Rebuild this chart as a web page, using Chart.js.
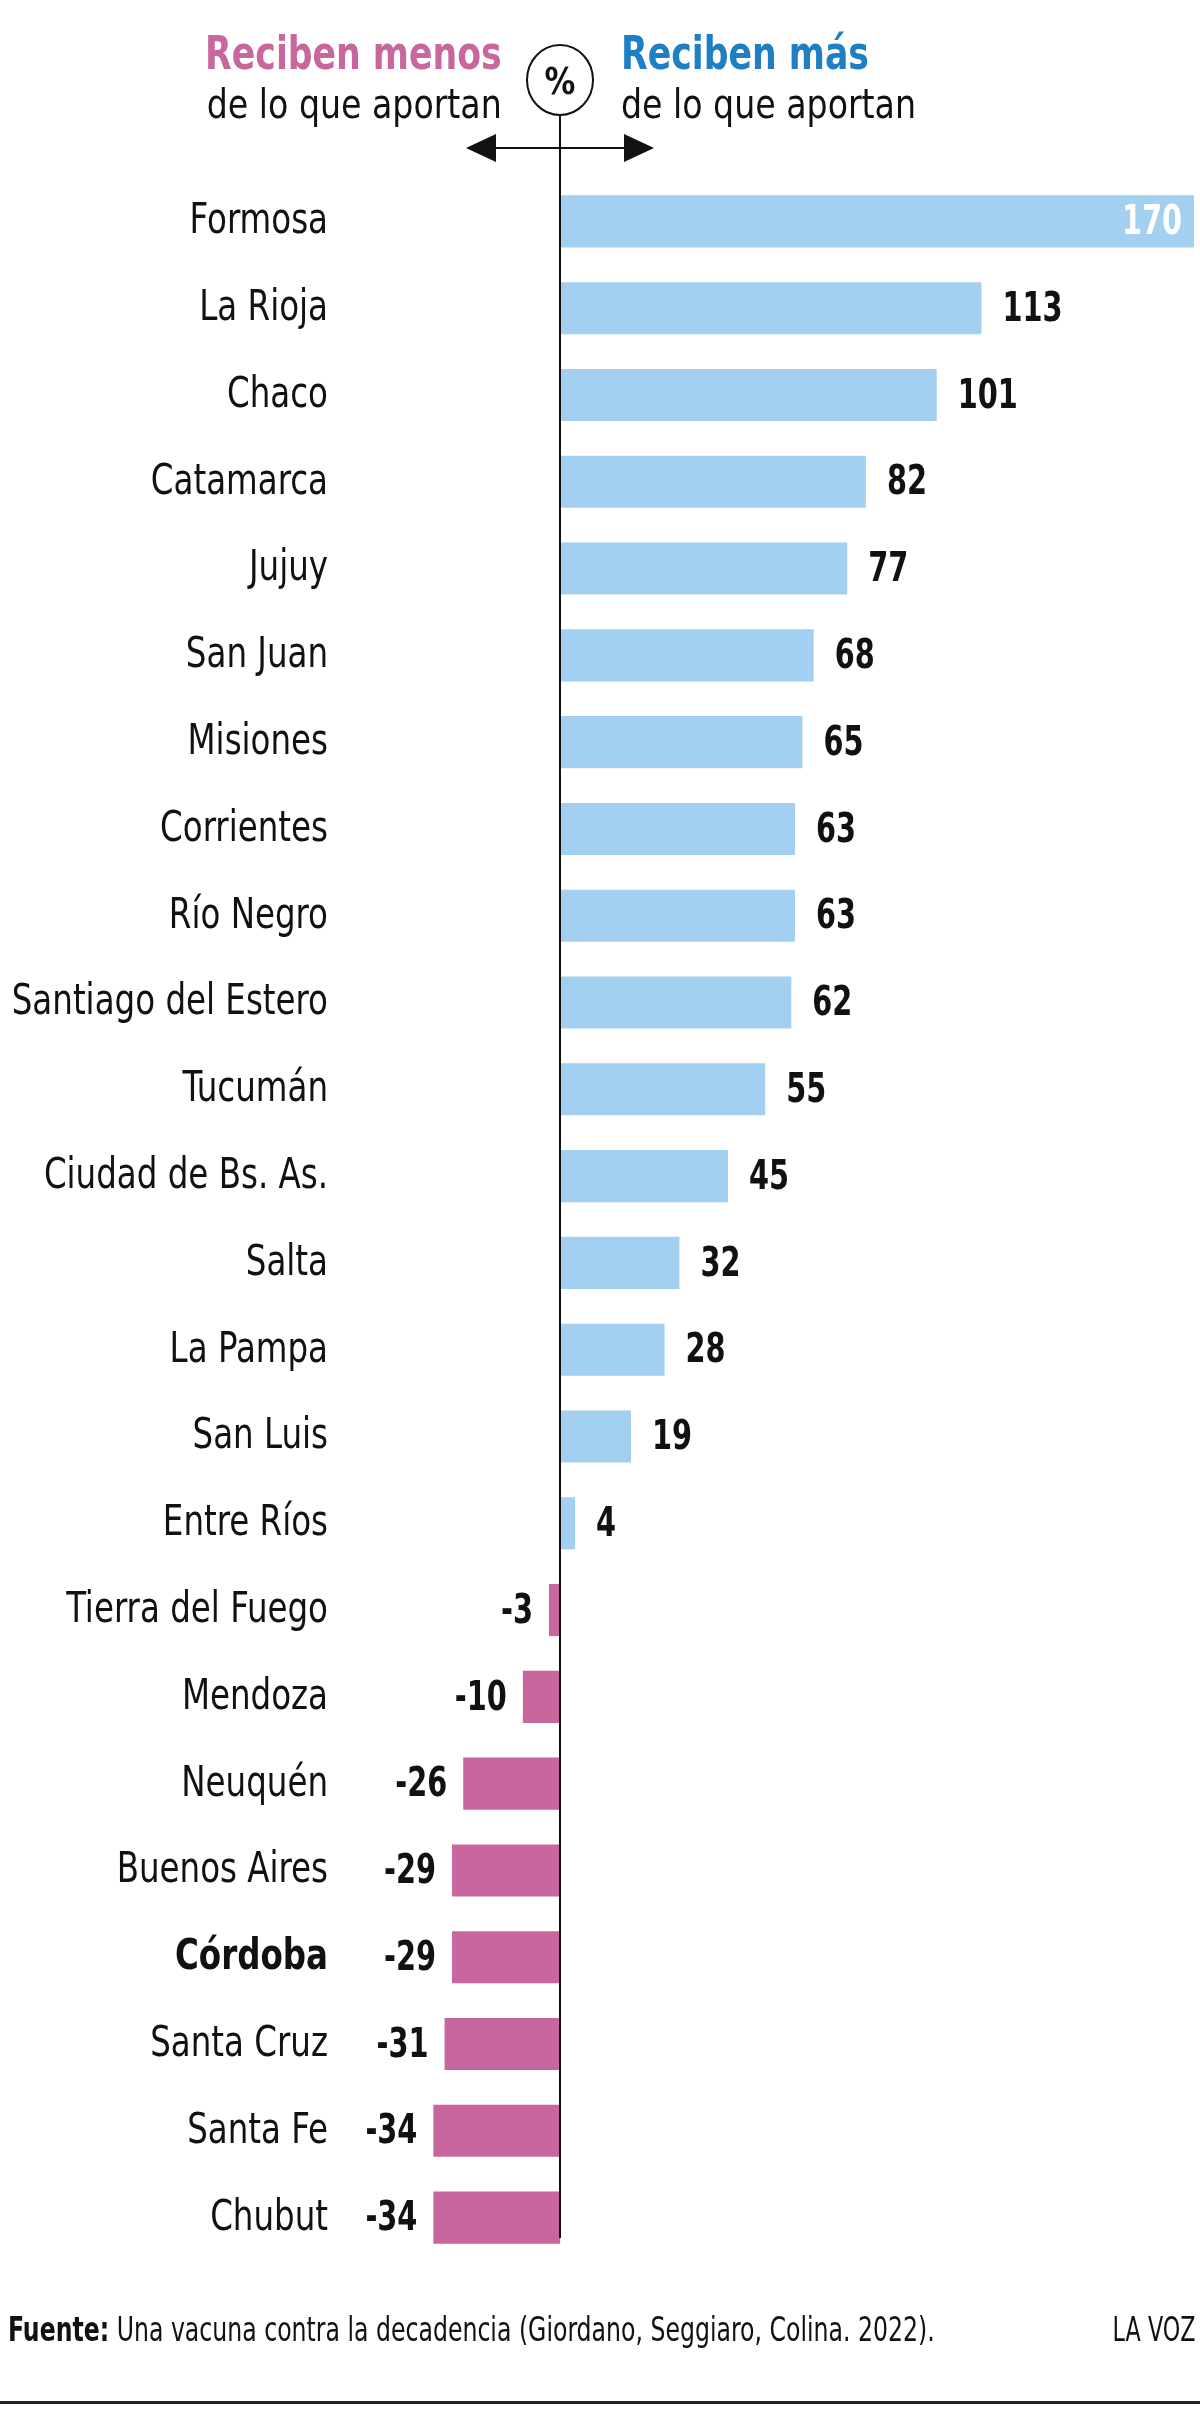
<!DOCTYPE html>
<html lang="es">
<head>
<meta charset="utf-8">
<title>Reciben más / menos de lo que aportan</title>
<script src="https://cdn.jsdelivr.net/npm/chart.js@4.4.1/dist/chart.umd.min.js"></script>
<style>
    html, body { margin: 0; padding: 0; background: #fff; }
    body {
        width: 1200px; height: 2413px; position: relative; overflow: hidden;
        font-family: 'DejaVu Sans Condensed', 'Liberation Sans', sans-serif;
        color: #111;
    }
    #grafico { position: absolute; left: 0; top: 0; }
    .txt { position: absolute; line-height: 1; white-space: nowrap; }
    .titulo { font-weight: bold; font-size: 47px; top: 29px; }
    .sub { font-size: 41px; top: 84px; }
    .izq { right: 698px; text-align: right; transform-origin: right center; }
    .der { left: 621px; transform-origin: left center; }
    .titulo.izq, .titulo.der { transform: scaleX(0.82); }
    .sub.izq, .sub.der { transform: scaleX(0.9); }
    #pct { left: 530px; width: 60px; text-align: center; top: 62px; font-size: 38px; font-weight: bold; transform: scaleX(0.9); }
    #fuente { left: 8px; top: 2313px; font-size: 33px; transform: scaleX(0.795); transform-origin: left center; }
    #marca { right: 5px; top: 2313px; font-size: 33px; transform: scaleX(0.75); transform-origin: right center; }
    #linea { position: absolute; left: 0; width: 1200px; top: 2401px; height: 3px; background: #222; }
</style>
</head>
<body>
<canvas id="grafico" width="1200" height="2413"></canvas>
<div class="txt titulo izq" style="color:#c8669e">Reciben menos</div>
<div class="txt sub izq">de lo que aportan</div>
<div class="txt titulo der" style="color:#1f7fc4">Reciben más</div>
<div class="txt sub der">de lo que aportan</div>
<div class="txt" id="pct">%</div>
<div class="txt" id="fuente"><b>Fuente:</b> Una vacuna contra la decadencia (Giordano, Seggiaro, Colina. 2022).</div>
<div class="txt" id="marca">LA VOZ</div>
<div id="linea"></div>
<script>
const provincias = ['Formosa', 'La Rioja', 'Chaco', 'Catamarca', 'Jujuy', 'San Juan', 'Misiones',
    'Corrientes', 'Río Negro', 'Santiago del Estero', 'Tucumán', 'Ciudad de Bs. As.', 'Salta',
    'La Pampa', 'San Luis', 'Entre Ríos', 'Tierra del Fuego', 'Mendoza', 'Neuquén', 'Buenos Aires',
    'Córdoba', 'Santa Cruz', 'Santa Fe', 'Chubut'];
const valores = [170, 113, 101, 82, 77, 68, 65, 63, 63, 62, 55, 45, 32, 28, 19, 4, -3, -10, -26, -29, -29, -31, -34, -34];
const destacada = 'Córdoba';

const FUENTE = "'DejaVu Sans Condensed', 'Liberation Sans', sans-serif";
const COLOR_MAS = '#a3cff0';
const COLOR_MENOS = '#c8669e';

// texto angosto: la fuente original es condensada
const textoAngosto = (ctx, txt, x, y, escala, align) => {
    ctx.save();
    ctx.translate(x, y);
    ctx.scale(escala, 1);
    ctx.textAlign = align;
    ctx.fillText(txt, 0, 0);
    ctx.restore();
};

// eje vertical en cero, circulo del % y flechas
const ejeCero = {
    id: 'ejeCero',
    afterDatasetsDraw(chart) {
        const { ctx } = chart;
        const x0 = Math.round(chart.scales.x.getPixelForValue(0));
        ctx.save();
        ctx.strokeStyle = '#111';
        ctx.fillStyle = '#111';
        ctx.lineWidth = 2;
        ctx.beginPath();
        ctx.ellipse(x0, 80, 33, 35, 0, 0, Math.PI * 2);
        ctx.stroke();
        ctx.beginPath();
        ctx.moveTo(x0, 115);
        ctx.lineTo(x0, 2238);
        ctx.stroke();
        ctx.beginPath();
        ctx.moveTo(x0 - 70, 148);
        ctx.lineTo(x0 + 70, 148);
        ctx.stroke();
        [-1, 1].forEach(d => {
            ctx.beginPath();
            ctx.moveTo(x0 + d * 94, 148);
            ctx.lineTo(x0 + d * 64, 134);
            ctx.lineTo(x0 + d * 64, 162);
            ctx.closePath();
            ctx.fill();
        });
        ctx.restore();
    }
};

// nombres de provincia a la izquierda
const etiquetasProvincia = {
    id: 'etiquetasProvincia',
    afterDraw(chart) {
        const { ctx } = chart;
        const escalaY = chart.scales.y;
        ctx.save();
        ctx.fillStyle = '#111';
        ctx.textBaseline = 'middle';
        provincias.forEach((p, i) => {
            ctx.font = (p === destacada ? 'bold ' : '') + '42px ' + FUENTE;
            textoAngosto(ctx, p, 328, escalaY.getPixelForValue(i) + 1, 0.86, 'right');
        });
        ctx.restore();
    }
};

// numeros al final de cada barra
const etiquetasValor = {
    id: 'etiquetasValor',
    afterDatasetsDraw(chart) {
        const { ctx, chartArea } = chart;
        const meta = chart.getDatasetMeta(0);
        const esc = 0.78;
        ctx.save();
        ctx.font = 'bold 41px ' + FUENTE;
        ctx.textBaseline = 'middle';
        meta.data.forEach((bar, i) => {
            const v = valores[i];
            const txt = String(v);
            const w = ctx.measureText(txt).width * esc;
            if (v >= 0) {
                if (bar.x + 21 + w > chartArea.right) {
                    ctx.fillStyle = '#fff';
                    textoAngosto(ctx, txt, bar.x - 12, bar.y + 2, esc, 'right');
                } else {
                    ctx.fillStyle = '#111';
                    textoAngosto(ctx, txt, bar.x + 21, bar.y + 2, esc, 'left');
                }
            } else {
                ctx.fillStyle = '#111';
                textoAngosto(ctx, txt, bar.x - 16, bar.y + 2, esc, 'right');
            }
        });
        ctx.restore();
    }
};

new Chart(document.getElementById('grafico'), {
    type: 'bar',
    data: {
        labels: provincias,
        datasets: [{
            data: valores,
            backgroundColor: valores.map(v => v >= 0 ? COLOR_MAS : COLOR_MENOS),
            borderWidth: 0,
            barPercentage: 0.6,
            categoryPercentage: 1
        }]
    },
    options: {
        indexAxis: 'y',
        responsive: false,
        animation: false,
        layout: { padding: { top: 178, bottom: 152, left: 0, right: 6 } },
        plugins: {
            legend: { display: false },
            tooltip: { enabled: false }
        },
        scales: {
            x: { min: -40, max: 170, display: false },
            y: {
                afterFit: (scale) => { scale.width = 411; },
                grid: { display: false, drawTicks: false },
                border: { display: false },
                ticks: { display: false }
            }
        }
    },
    plugins: [ejeCero, etiquetasValor, etiquetasProvincia]
});
</script>
</body>
</html>
